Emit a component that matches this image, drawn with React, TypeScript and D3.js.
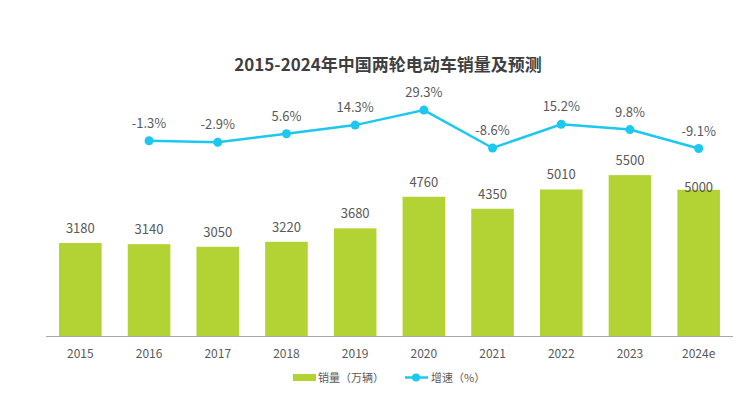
import React from "react";
import * as d3 from "d3";

const TITLE = "2015-2024年中国两轮电动车销量及预测";
const years = ["2015", "2016", "2017", "2018", "2019", "2020", "2021", "2022", "2023", "2024e"];
const sales = [3180, 3140, 3050, 3220, 3680, 4760, 4350, 5010, 5500, 5000];
const growth: (number | null)[] = [null, -1.3, -2.9, 5.6, 14.3, 29.3, -8.6, 15.2, 9.8, -9.1];
const legendLabels = ["销量（万辆）", "增速（%）"];

const W = 755;
const H = 411;
const BAR = "#B3D334";
const LINE = "#1CC8F0";
const TXT = "#595959";
const FONT = "'Noto Sans CJK SC', 'Noto Sans', sans-serif";

export default function App() {
  const x = d3.scaleBand<string>().domain(years).range([46, 733]).paddingInner(0.38).paddingOuter(0.19);
  const y = d3.scaleLinear().domain([0, 6000]).range([336, 160.5]);
  const yL = d3.scaleLinear().domain([-10, 30]).range([149.4, 109.4]);

  const pts = years
    .map((yr, i) => ({ yr, v: growth[i] }))
    .filter((d) => d.v !== null) as { yr: string; v: number }[];
  const cx = (yr: string) => (x(yr) ?? 0) + x.bandwidth() / 2;
  const line = d3
    .line<{ yr: string; v: number }>()
    .x((d) => cx(d.yr))
    .y((d) => yL(d.v));

  return (
    <svg width={W} height={H} style={{ position: "absolute", left: 0, top: 0, background: "#fff" }} fontFamily={FONT}>
      <rect width={W} height={H} fill="#fff" />
      <text x={388} y={71} textAnchor="middle" fontSize={17} fontWeight="bold" fill="#3F3F3F">
        {TITLE}
      </text>

      {years.map((yr, i) => (
        <rect key={yr} x={x(yr)} y={y(sales[i])} width={x.bandwidth()} height={y(0) - y(sales[i])} fill={BAR} />
      ))}
      {years.map((yr, i) => (
        <text
          key={"l" + yr}
          x={cx(yr)}
          y={yr.endsWith("e") ? y(sales[i]) + 2 : y(sales[i]) - 10}
          textAnchor="middle"
          fontSize={13}
          fill={TXT}
        >
          {sales[i]}
        </text>
      ))}

      <line x1={46} x2={733} y1={336.5} y2={336.5} stroke="#A6A6A6" strokeWidth={1} />
      {years.map((yr) => (
        <text key={"t" + yr} x={cx(yr)} y={358} textAnchor="middle" fontSize={12} fill={TXT}>
          {yr}
        </text>
      ))}

      <path d={line(pts) ?? ""} fill="none" stroke={LINE} strokeWidth={2.5} />
      {pts.map((d) => (
        <g key={"p" + d.yr}>
          <circle cx={cx(d.yr)} cy={yL(d.v)} r={4.5} fill={LINE} />
          <text x={cx(d.yr)} y={yL(d.v) - 13} textAnchor="middle" fontSize={13} fill={TXT}>
            {d.v.toFixed(1)}%
          </text>
        </g>
      ))}

      <rect x={293} y={374} width={23} height={7} fill={BAR} />
      <text x={318} y={382} fontSize={11} fill={TXT}>
        {legendLabels[0]}
      </text>
      <line x1={405} x2={428} y1={377.5} y2={377.5} stroke={LINE} strokeWidth={2.5} />
      <circle cx={416} cy={377.5} r={4} fill={LINE} />
      <text x={431} y={382} fontSize={11} fill={TXT}>
        {legendLabels[1]}
      </text>
    </svg>
  );
}
